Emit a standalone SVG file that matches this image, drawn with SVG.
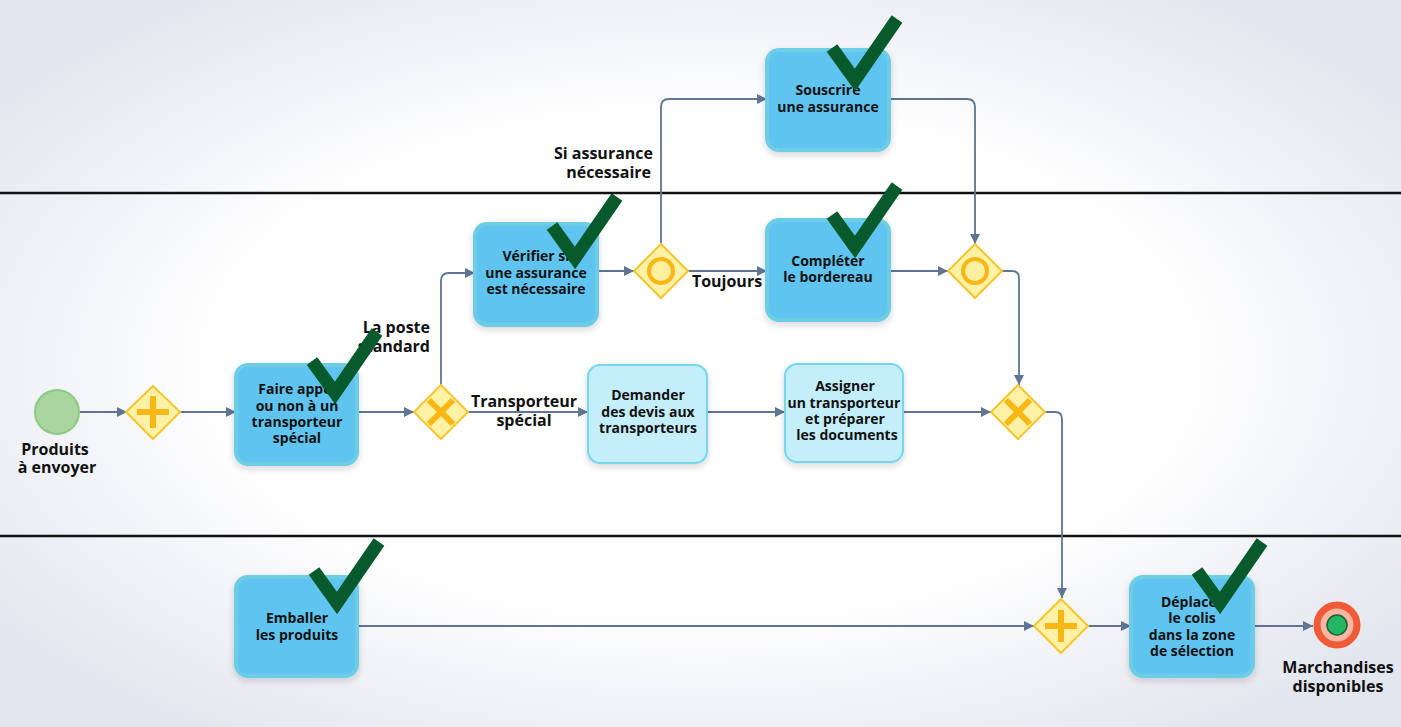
<svg xmlns="http://www.w3.org/2000/svg" width="1401" height="727" viewBox="0 0 1401 727">
<defs>
<radialGradient id="bg" cx="50%" cy="50%" r="62%">
<stop offset="0.55" stop-color="#ffffff"/>
<stop offset="1" stop-color="#e3e6ee"/>
</radialGradient>
<filter id="sh" x="-20%" y="-20%" width="140%" height="150%">
<feDropShadow dx="0" dy="3" stdDeviation="3" flood-color="#203040" flood-opacity="0.18"/>
</filter>
<marker id="arr" viewBox="0 0 10 10" refX="10" refY="5" markerWidth="10" markerHeight="10" markerUnits="userSpaceOnUse" orient="auto">
<path d="M0,0 L10,5 L0,10 z" fill="#5f7593"/>
</marker>
<style>
.lane{stroke:#111;stroke-width:2.5;fill:none}
.task{fill:#5ec4ef;stroke:#6ccde4;stroke-width:4}
.task2{fill:#c3eefa;stroke:#74d6ee;stroke-width:2}
.gw{fill:#fff1a6;stroke:#f7c62f;stroke-width:2}
.mk{stroke:#f9b715;stroke-width:6;fill:none}
.ring{stroke:#f9b715;stroke-width:4;fill:#fff0a0}
.c{fill:none;stroke:#5f7593;stroke-width:1.8;marker-end:url(#arr)}
.t{font-family:"Open Sans","Noto Sans",sans-serif;font-weight:bold;font-size:14px;fill:#111;text-anchor:middle}
.l{font-family:"Open Sans","Noto Sans",sans-serif;font-weight:bold;font-size:16px;fill:#111}
.chk{fill:none;stroke:#075a2c;stroke-width:13;stroke-linejoin:miter;stroke-miterlimit:10}
</style>
</defs>
<rect x="0" y="0" width="1401" height="727" fill="url(#bg)"/>
<g id="lanes">
<line class="lane" x1="0" y1="193" x2="1401" y2="193"/>
<line class="lane" x1="0" y1="536" x2="1401" y2="536"/>
</g>
<g id="connectors">
<path class="c" d="M80,412 L127,412"/>
<path class="c" d="M180,412 L236,412"/>
<path class="c" d="M357,412 L414,412"/>
<path class="c" d="M441,385 L441,281 Q441,273 449,273 L475,273"/>
<path class="c" d="M468,412 L588,412"/>
<path class="c" d="M597,271 L634,271"/>
<path class="c" d="M688,271 L767,271"/>
<path class="c" d="M661,244 L661,107 Q661,99 669,99 L767,99"/>
<path class="c" d="M889,99 L967,99 Q975,99 975,107 L975,244"/>
<path class="c" d="M889,271 L948,271"/>
<path class="c" d="M1002,271 L1012,271 Q1019,271 1019,278 L1019,385"/>
<path class="c" d="M707,412 L785,412"/>
<path class="c" d="M903,412 L991,412"/>
<path class="c" d="M1045,412 L1055,412 Q1062,412 1062,419 L1062,598"/>
<path class="c" d="M357,626 L1034,626"/>
<path class="c" d="M1088,626 L1131,626"/>
<path class="c" d="M1253,626 L1313,626"/>
</g>
<g id="labels">
<text class="l" text-anchor="end" x="430" y="333">La poste</text>
<text class="l" text-anchor="end" x="430" y="352">standard</text>
<text class="l" text-anchor="middle" x="524" y="407">Transporteur</text>
<text class="l" text-anchor="middle" x="524" y="426">spécial</text>
<text class="l" text-anchor="middle" x="727" y="287">Toujours</text>
<text class="l" text-anchor="end" x="653" y="159">Si assurance</text>
<text class="l" text-anchor="end" x="651" y="178">nécessaire</text>
</g>
<g id="start">
<circle cx="57" cy="412" r="22" fill="#a9d69f" stroke="#8dc887" stroke-width="2"/>
<text class="l" text-anchor="middle" x="55" y="455">Produits</text>
<text class="l" text-anchor="middle" x="57" y="473">à envoyer</text>
</g>
<g id="pg1">
<path class="gw" d="M153,386 L180,412 L153,439 L126,412 z"/>
<path class="mk" d="M137,412 L169,412 M153,396 L153,428"/>
</g>
<g id="task-faire">
<rect class="task" x="236" y="365" width="121" height="99" rx="12" filter="url(#sh)"/>
<text class="t" x="297" y="394">Faire appel</text>
<text class="t" x="297" y="411">ou non à un</text>
<text class="t" x="297" y="427">transporteur</text>
<text class="t" x="297" y="443">spécial</text>
<path class="chk" d="M312,361 L335,393 L377,332"/>
</g>
<g id="xg1">
<path class="gw" d="M441,385 L468,412 L441,439 L414,412 z"/>
<path class="mk" d="M429,400 L453,424 M453,400 L429,424"/>
</g>
<g id="task-verifier">
<rect class="task" x="475" y="224" width="122" height="101" rx="12" filter="url(#sh)"/>
<text class="t" x="536" y="261">Vérifier si</text>
<text class="t" x="536" y="278">une assurance</text>
<text class="t" x="536" y="294">est nécessaire</text>
<path class="chk" d="M552,226 L575,258 L617,197"/>
</g>
<g id="og1">
<path class="gw" d="M661,244 L688,271 L661,298 L634,271 z"/>
<circle class="ring" cx="661" cy="271" r="12"/>
</g>
<g id="task-souscrire">
<rect class="task" x="767" y="50" width="122" height="100" rx="12" filter="url(#sh)"/>
<text class="t" x="828" y="95">Souscrire</text>
<text class="t" x="828" y="112">une assurance</text>
<path class="chk" d="M832,48 L855,80 L897,19"/>
</g>
<g id="task-completer">
<rect class="task" x="767" y="220" width="122" height="100" rx="12" filter="url(#sh)"/>
<text class="t" x="828" y="266">Compléter</text>
<text class="t" x="828" y="282">le bordereau</text>
<path class="chk" d="M832,215 L855,247 L897,186"/>
</g>
<g id="og2">
<path class="gw" d="M975,244 L1002,271 L975,298 L948,271 z"/>
<circle class="ring" cx="975" cy="271" r="12"/>
</g>
<g id="task-demander">
<rect class="task2" x="588" y="365" width="119" height="98" rx="12" filter="url(#sh)"/>
<text class="t" x="648" y="400">Demander</text>
<text class="t" x="648" y="417">des devis aux</text>
<text class="t" x="648" y="433">transporteurs</text>
</g>
<g id="task-assigner">
<rect class="task2" x="785" y="364" width="118" height="98" rx="12" filter="url(#sh)"/>
<text class="t" x="845" y="391">Assigner</text>
<text class="t" x="844" y="408">un transporteur</text>
<text class="t" x="845" y="424">et préparer</text>
<text class="t" x="847" y="440">les documents</text>
</g>
<g id="xg2">
<path class="gw" d="M1018,385 L1045,412 L1018,439 L991,412 z"/>
<path class="mk" d="M1006,400 L1030,424 M1030,400 L1006,424"/>
</g>
<g id="task-emballer">
<rect class="task" x="236" y="577" width="121" height="99" rx="12" filter="url(#sh)"/>
<text class="t" x="297" y="623">Emballer</text>
<text class="t" x="297" y="640">les produits</text>
<path class="chk" d="M314,571 L337,603 L379,542"/>
</g>
<g id="pg2">
<path class="gw" d="M1061,599 L1088,626 L1061,653 L1034,626 z"/>
<path class="mk" d="M1045,626 L1077,626 M1061,610 L1061,642"/>
</g>
<g id="task-deplacer">
<rect class="task" x="1131" y="577" width="122" height="99" rx="12" filter="url(#sh)"/>
<text class="t" x="1192" y="607">Déplacer</text>
<text class="t" x="1192" y="623">le colis</text>
<text class="t" x="1192" y="640">dans la zone</text>
<text class="t" x="1192" y="656">de sélection</text>
<path class="chk" d="M1197,571 L1220,603 L1262,542"/>
</g>
<g id="end">
<circle cx="1337" cy="625" r="20" fill="#f9b6a4" stroke="#f15a36" stroke-width="7"/>
<circle cx="1337" cy="625" r="10" fill="#22b564" stroke="#1d5e36" stroke-width="1.5"/>
<text class="l" text-anchor="middle" x="1338" y="673">Marchandises</text>
<text class="l" text-anchor="middle" x="1338" y="692">disponibles</text>
</g>
</svg>
